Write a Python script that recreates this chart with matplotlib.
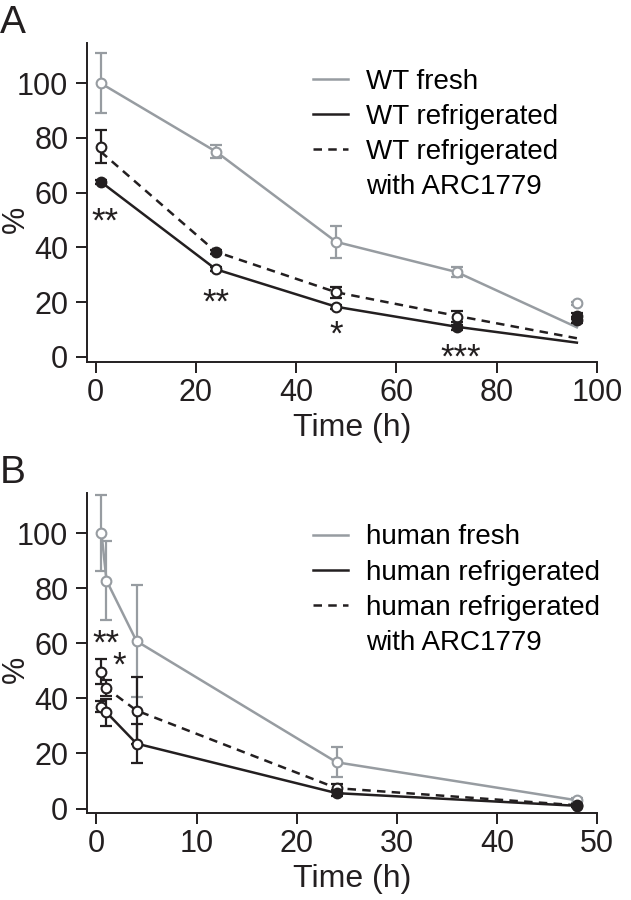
import matplotlib
matplotlib.use("Agg")
import matplotlib.pyplot as plt
from matplotlib.lines import Line2D

plt.rcParams['font.family'] = ['Liberation Sans', 'DejaVu Sans']

GRAY = '#979ca1'
BLACK = '#231f20'

# ---- panel A: mouse (WT) platelets, time in hours ----
a_time = [1, 24, 48, 72, 96]
# measured means and SEM
a_fresh = [100, 75, 42, 31, 19.5]
a_fresh_err = [11, 2.4, 5.8, 2, 0.5]
a_refr = [64, 32, 18.3, 10.8, 13.5]
a_refr_err = [0.8, 0.8, 0.8, 0.8, 1]
a_arc = [76.8, 38.4, 23.6, 14.7, 15]
a_arc_err = [6, 0.8, 2, 2, 1]
# fitted curves drawn as lines
a_fresh_fit = [100, 75, 42, 31, 10.8]
a_refr_fit = [64, 32, 18.3, 11, 5.2]
a_arc_fit = [75, 38.4, 23.6, 15, 6.8]
a_stars = ['**', '**', '*', '***']
a_star_x = [1.9, 24.1, 48, 72.8]
a_star_y = [53, 23.4, 11.7, 3.3]

# ---- panel B: human platelets ----
b_time = [0.5, 1, 4, 24, 48]
b_fresh = [100, 82.8, 60.8, 16.8, 3]
b_fresh_err = [13.7, 14.5, 20.3, 5.5, 1]
b_refr = [37, 34.9, 23.6, 5.6, 1]
b_refr_err = [2, 5, 7, 1, 0.5]
b_arc = [49.7, 43.7, 35.6, 7.4, 1.2]
b_arc_err = [4.5, 3, 12, 1.5, 0.5]
b_stars = ['**', '*']
b_star_x = [0.9, 2.3]
b_star_y = [63.5, 55.5]

TICK_FS = 22
LEG_FS = 20
STAR_FS = 25


def draw_series(ax, x, fit, mean, err, color, ls, filled):
    line, = ax.plot(x, fit, color=color, lw=1.8, ls=ls, zorder=2)
    if ls == '--':
        line.set_dashes((3.4, 2.5))
    ax.errorbar(x, mean, yerr=err, fmt='none', ecolor=color, elinewidth=1.6,
                capsize=4, capthick=1.6, zorder=3)
    for i, (xi, yi) in enumerate(zip(x, mean)):
        ax.plot(xi, yi, 'o', ms=7, mew=1.5, mec=color,
                mfc=color if i in filled else 'white', zorder=4)


def add_stars(ax, labels, xs, ys):
    # asterisks sit high in the em box, so shift down by ~0.57 em
    for s, x, y in zip(labels, xs, ys):
        ax.annotate(s, (x, y), xytext=(0, -0.57 * STAR_FS),
                    textcoords='offset points', ha='center', va='baseline',
                    fontsize=STAR_FS, color=BLACK)


def style_axes(ax, xlim, ylim, xticks):
    ax.set_xlim(*xlim)
    ax.set_ylim(*ylim)
    ax.set_xticks(xticks)
    ax.set_yticks([0, 20, 40, 60, 80, 100])
    for s in ['top', 'right']:
        ax.spines[s].set_visible(False)
    for s in ['left', 'bottom']:
        ax.spines[s].set_linewidth(1.4)
        ax.spines[s].set_color(BLACK)
    ax.tick_params(direction='out', length=8, width=1.4, labelsize=TICK_FS,
                   colors=BLACK)
    ax.tick_params(axis='y', pad=5.5)
    ax.tick_params(axis='x', pad=3.5)
    ax.set_xlabel('Time (h)', fontsize=23, color=BLACK)
    ax.set_ylabel('%', fontsize=22, color=BLACK)
    ax.xaxis.set_label_coords(0.52, -0.16)
    ax.yaxis.set_label_coords(-0.139, 0.448)
    ax.yaxis.label.set_va('center')


def add_legend(ax, names, anchor):
    handles = [Line2D([], [], color=GRAY, lw=1.8),
               Line2D([], [], color=BLACK, lw=1.8),
               Line2D([], [], color=BLACK, lw=1.8, dashes=(3.4, 2.5)),
               Line2D([], [], color='none')]
    ax.legend(handles, names, loc='upper left', bbox_to_anchor=anchor,
              frameon=False, fontsize=LEG_FS, handlelength=1.26,
              handletextpad=0.65, labelspacing=0.33, borderaxespad=0)


fig = plt.figure(figsize=(6.31, 9), dpi=100)

axA = fig.add_axes([0.138, 0.598, 0.808, 0.354])
draw_series(axA, a_time, a_fresh_fit, a_fresh, a_fresh_err, GRAY, '-', [])
draw_series(axA, a_time, a_arc_fit, a_arc, a_arc_err, BLACK, '--', [1, 4])
draw_series(axA, a_time, a_refr_fit, a_refr, a_refr_err, BLACK, '-', [0, 3, 4])
add_stars(axA, a_stars, a_star_x, a_star_y)
style_axes(axA, (-1.7, 100), (-1.8, 114.6), [0, 20, 40, 60, 80, 100])
add_legend(axA, ['WT fresh', 'WT refrigerated', 'WT refrigerated', 'with ARC1779'],
           (0.422, 0.955))

axB = fig.add_axes([0.138, 0.097, 0.808, 0.355])
draw_series(axB, b_time, b_fresh, b_fresh, b_fresh_err, GRAY, '-', [])
draw_series(axB, b_time, b_arc, b_arc, b_arc_err, BLACK, '--', [4])
draw_series(axB, b_time, b_refr, b_refr, b_refr_err, BLACK, '-', [3, 4])
add_stars(axB, b_stars, b_star_x, b_star_y)
style_axes(axB, (-0.94, 50), (-1.5, 114.5), [0, 10, 20, 30, 40, 50])
add_legend(axB, ['human fresh', 'human refrigerated', 'human refrigerated',
                 'with ARC1779'], (0.422, 0.937))

fig.text(0.0, 0.994, 'A', fontsize=28, va='top', ha='left', color=BLACK)
fig.text(0.0, 0.494, 'B', fontsize=28, va='top', ha='left', color=BLACK)

fig.savefig('out.png', dpi=100)
